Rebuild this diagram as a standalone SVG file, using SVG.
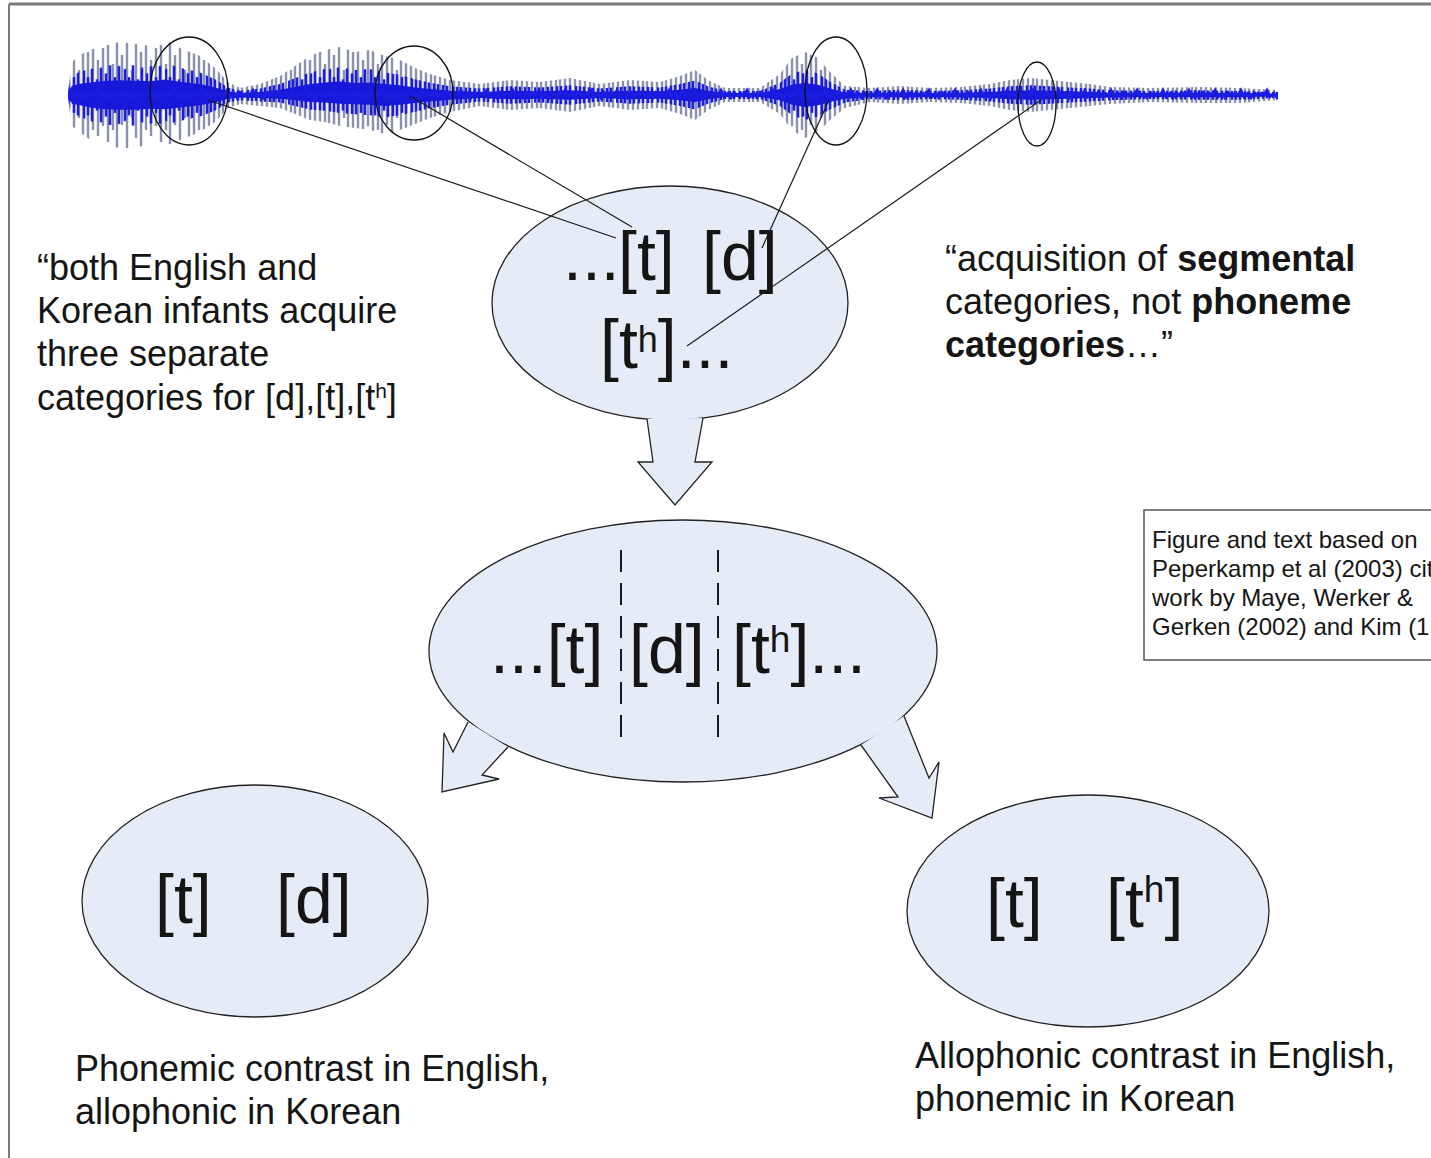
<svg xmlns="http://www.w3.org/2000/svg" xmlns:xlink="http://www.w3.org/1999/xlink" width="1431" height="1158" viewBox="0 0 1431 1158">
<style>
.txt{font-family:"Liberation Sans",Arial,sans-serif;fill:#151515}
.big{font-size:68px}
.lbl{font-size:36px}
.note{font-size:24px}
.node{fill:#e6ecf7;stroke:#222;stroke-width:1.3}
.ring{fill:none;stroke:#111;stroke-width:1.3}
.cl{stroke:#1a1a1a;stroke-width:1.2;fill:none}
.arrowfill{fill:#e6ecf7;stroke:none}
.arrowline{fill:none;stroke:#222;stroke-width:1.3;stroke-linejoin:miter}
.dash{stroke:#1a1a1a;stroke-width:2;stroke-dasharray:22 11}
</style>
<defs>
<pattern id="spk" patternUnits="userSpaceOnUse" x="0" y="30" width="53" height="130">
<path d="M2,15V112M7,34V100M11,5V120M16,25V95M21,10V118M26,40V88M30,12V108M35,22V122M40,8V100M45,30V106M50,18V96" stroke="#8a90ae" stroke-width="2.4"/>
</pattern>
<pattern id="bsp" patternUnits="userSpaceOnUse" x="0" y="30" width="41" height="130">
<path d="M2,20V110M6,34V100M10,10V118M15,38V92M19,18V112M24,28V102M28,5V125M33,34V96M37,15V115" stroke="#1c1ce2" stroke-width="2.6"/>
</pattern>
<pattern id="wig" patternUnits="userSpaceOnUse" x="68" y="85" width="26" height="20">
<polyline points="0,10 3,5 6,12 10,8 13,13 16,7 20,11 23,8 26,10" fill="none" stroke="#1c1ce2" stroke-width="2.5"/>
</pattern>
<path id="env" d="M68,90 L72,62 80,55 90,50 105,45 120,42 135,44 150,46 165,40 180,48 200,56 215,68 228,82 240,88 260,84 280,76 295,66 310,56 325,50 340,47 355,52 370,50 385,56 400,60 415,68 430,74 450,80 480,84 510,80 540,82 570,78 600,84 630,80 660,82 680,76 695,70 708,80 725,88 760,88 780,74 792,58 805,52 818,58 830,72 845,86 870,88 900,86 930,88 960,87 990,84 1010,80 1030,78 1050,80 1070,82 1090,84 1110,87 1150,88 1200,87 1240,88 1278,90 L1278,100 1240,103 1200,103 1150,102 1110,104 1090,106 1070,108 1050,110 1030,112 1010,110 990,106 960,103 930,102 900,104 870,102 845,108 830,120 818,132 805,138 792,130 780,114 760,102 725,102 708,110 695,120 680,114 660,108 630,110 600,106 570,112 540,108 510,110 480,106 450,112 430,118 415,124 400,130 385,134 370,130 355,128 340,126 325,122 310,120 295,114 280,108 260,106 240,104 228,108 215,122 200,132 180,140 165,146 150,144 135,148 120,148 105,146 90,140 80,132 72,126 68,100 Z"/>
</defs>
<rect x="0" y="0" width="1431" height="1158" fill="#ffffff"/>
<g id="frame">
<line x1="9" y1="4" x2="1431" y2="4" stroke="#7a7a7a" stroke-width="3"/>
<line x1="9" y1="4" x2="9" y2="1158" stroke="#7a7a7a" stroke-width="2"/>
</g>
<g id="waveform">
<use xlink:href="#env" fill="url(#spk)"/>
<g transform="translate(0,95) scale(1,0.58) translate(0,-95)"><use xlink:href="#env" fill="url(#bsp)"/></g>
<g transform="translate(0,95) scale(1,0.28) translate(0,-95)"><use xlink:href="#env" fill="#1818d8"/></g>
<rect x="68" y="85" width="1210" height="20" fill="url(#wig)"/>
<ellipse class="ring" cx="189" cy="91" rx="39" ry="54"/>
<ellipse class="ring" cx="414" cy="93" rx="39" ry="47"/>
<ellipse class="ring" cx="836" cy="91" rx="31" ry="54"/>
<ellipse class="ring" cx="1037" cy="104" rx="19" ry="42"/>
</g>
<g id="node-segments">
<ellipse class="node" cx="670" cy="303" rx="178" ry="117"/>
<text class="txt big" y="280"><tspan x="563">...</tspan><tspan x="618">[t]</tspan><tspan x="702">[d]</tspan></text>
<text class="txt big" y="368"><tspan x="600">[t</tspan><tspan font-size="36" dy="-16">h</tspan><tspan dy="16">]...</tspan></text>
</g>
<g id="node-categories">
<ellipse class="node" cx="683" cy="651" rx="254" ry="131"/>
<text class="txt big" y="673"><tspan x="490">...[t]</tspan><tspan x="629">[d]</tspan><tspan x="732">[t</tspan><tspan font-size="37" dy="-21">h</tspan><tspan dy="21">]...</tspan></text>
<line class="dash" x1="621" y1="550" x2="621" y2="745"/>
<line class="dash" x1="718" y1="550" x2="718" y2="745"/>
</g>
<g id="node-english">
<ellipse class="node" cx="255" cy="901" rx="173" ry="116"/>
<text class="txt" font-size="68" y="923"><tspan x="155">[t]</tspan><tspan x="276">[d]</tspan></text>
</g>
<g id="node-korean">
<ellipse class="node" cx="1088" cy="911" rx="181" ry="116"/>
<text class="txt" font-size="68" y="927"><tspan x="986">[t]</tspan><tspan x="1106">[t</tspan><tspan font-size="37" dy="-25">h</tspan><tspan dy="25">]</tspan></text>
</g>
<g id="connectors">
<line class="cl" x1="208" y1="100" x2="616" y2="238"/>
<line class="cl" x1="410" y1="96" x2="632" y2="227"/>
<line class="cl" x1="829" y1="100" x2="762" y2="248"/>
<line class="cl" x1="1041" y1="100" x2="687" y2="346"/>
<path class="arrowfill" d="M647,419 L653,462 638,462 675,505 712,462 695,462 703,418 Z"/>
<path class="arrowline" d="M647,419 L653,462 638,462 675,505 712,462 695,462 703,418"/>
<path class="arrowfill" d="M468,722 L453,752 444,733 442,792 499,779 482,775 508,747 Z"/>
<path class="arrowline" d="M468,722 L453,752 444,733 442,792 499,779 482,775 508,747"/>
<path class="arrowfill" d="M861,745 L898,797 879,798 932,818 939,762 929,778 904,716 Z"/>
<path class="arrowline" d="M861,745 L898,797 879,798 932,818 939,762 929,778 904,716"/>
</g>
<g id="quote-left">
<text class="txt lbl" x="37"><tspan x="37" y="280">“both English and</tspan><tspan x="37" y="323">Korean infants acquire</tspan><tspan x="37" y="366">three separate</tspan><tspan x="37" y="410">categories for [d],[t],[t<tspan font-size="21" dy="-12">h</tspan><tspan dy="12">]</tspan></tspan></text>
</g>
<g id="quote-right">
<text class="txt lbl"><tspan x="945" y="271">“acquisition of <tspan font-weight="bold">segmental</tspan></tspan><tspan x="945" y="314">categories, not <tspan font-weight="bold">phoneme</tspan></tspan><tspan x="945" y="357"><tspan font-weight="bold">categories</tspan>…”</tspan></text>
</g>
<g id="note">
<rect x="1144" y="510" width="300" height="150" fill="#ffffff" stroke="#555" stroke-width="1.5"/>
<text class="txt note"><tspan x="1152" y="548">Figure and text based on</tspan><tspan x="1152" y="577">Peperkamp et al (2003) cit</tspan><tspan x="1152" y="606">work by Maye, Werker &amp;</tspan><tspan x="1152" y="635">Gerken (2002) and Kim (1</tspan></text>
</g>
<g id="label-english">
<text class="txt lbl"><tspan x="75" y="1081">Phonemic contrast in English,</tspan><tspan x="75" y="1124">allophonic in Korean</tspan></text>
</g>
<g id="label-korean">
<text class="txt lbl"><tspan x="915" y="1068">Allophonic contrast in English,</tspan><tspan x="915" y="1111">phonemic in Korean</tspan></text>
</g>
</svg>
